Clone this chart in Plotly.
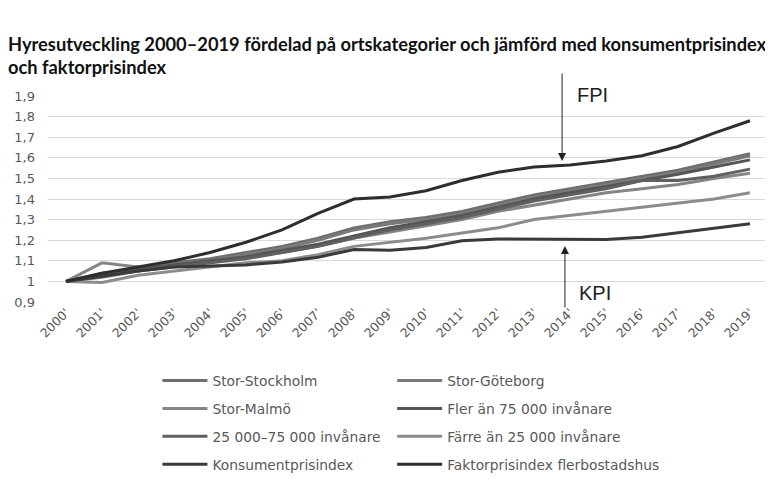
import plotly.graph_objects as go

years = ["2000'", "2001'", "2002'", "2003'", "2004'", "2005'", "2006'", "2007'", "2008'", "2009'",
         "2010'", "2011'", "2012'", "2013'", "2014'", "2015'", "2016'", "2017'", "2018'", "2019'"]

stor_stockholm = [1.00, 1.03, 1.06, 1.09, 1.11, 1.14, 1.17, 1.21, 1.26, 1.29, 1.31, 1.34, 1.38, 1.42, 1.45, 1.48, 1.51, 1.54, 1.58, 1.62]
stor_goteborg = [1.00, 1.02, 1.05, 1.08, 1.10, 1.13, 1.16, 1.20, 1.25, 1.28, 1.30, 1.33, 1.37, 1.41, 1.44, 1.47, 1.50, 1.53, 1.57, 1.61]
stor_malmo = [1.00, 1.09, 1.07, 1.08, 1.10, 1.12, 1.14, 1.17, 1.21, 1.24, 1.27, 1.30, 1.34, 1.37, 1.40, 1.43, 1.45, 1.47, 1.50, 1.525]
fler_75000 = [1.00, 1.04, 1.06, 1.08, 1.10, 1.12, 1.15, 1.18, 1.22, 1.26, 1.29, 1.32, 1.36, 1.40, 1.43, 1.46, 1.49, 1.52, 1.555, 1.59]
mellan_25_75 = [1.00, 1.03, 1.05, 1.07, 1.09, 1.11, 1.14, 1.17, 1.21, 1.25, 1.28, 1.31, 1.35, 1.39, 1.42, 1.45, 1.49, 1.49, 1.51, 1.545]
farre_25000 = [1.00, 0.995, 1.03, 1.05, 1.07, 1.09, 1.10, 1.13, 1.17, 1.19, 1.21, 1.235, 1.26, 1.30, 1.32, 1.34, 1.36, 1.38, 1.40, 1.43]
kpi = [1.00, 1.026, 1.05, 1.07, 1.074, 1.08, 1.094, 1.117, 1.155, 1.151, 1.165, 1.197, 1.206, 1.206, 1.204, 1.203, 1.214, 1.236, 1.258, 1.28]
fpi = [1.00, 1.04, 1.07, 1.10, 1.14, 1.19, 1.25, 1.33, 1.40, 1.41, 1.44, 1.49, 1.53, 1.555, 1.565, 1.585, 1.61, 1.655, 1.72, 1.78]

y_ticks = [0.9, 1.0, 1.1, 1.2, 1.3, 1.4, 1.5, 1.6, 1.7, 1.8, 1.9]
y_tick_labels = ["0,9", "1", "1,1", "1,2", "1,3", "1,4", "1,5", "1,6", "1,7", "1,8", "1,9"]

series = [
    ("Stor-Stockholm", stor_stockholm, "#6e6e6e", "legend"),
    ("Stor-Göteborg", stor_goteborg, "#7a7a7a", "legend2"),
    ("Stor-Malmö", stor_malmo, "#858585", "legend"),
    ("Fler än 75 000 invånare", fler_75000, "#555555", "legend2"),
    ("25 000–75 000 invånare", mellan_25_75, "#606060", "legend"),
    ("Färre än 25 000 invånare", farre_25000, "#8c8c8c", "legend2"),
    ("Konsumentprisindex", kpi, "#3a3a3a", "legend"),
    ("Faktorprisindex flerbostadshus", fpi, "#2e2e2e", "legend2"),
]

fig = go.Figure()
for i, (name, vals, color, leg) in enumerate(series):
    fig.add_trace(go.Scatter(x=years, y=vals, name=name, mode="lines", legendgroup=f"g{i}",
                             line=dict(color=color, width=3), legend=leg))

FONT = "DejaVu Sans"
TXT = "#595959"
leg_common = dict(orientation="v", itemwidth=45, tracegroupgap=7,
                  font=dict(family=FONT, size=13.8, color=TXT), xanchor="left",
                  yanchor="middle", y=-0.585, bgcolor="rgba(0,0,0,0)", traceorder="grouped")

# page body adds an 8px offset, so the figure is sized 765x483
fig.update_layout(
    width=765, height=483,
    margin=dict(l=40, r=5, t=88, b=189, autoexpand=False),
    paper_bgcolor="white", plot_bgcolor="white",
    title=dict(text="Hyresutveckling 2000–2019 fördelad på ortskategorier och jämförd med konsumentprisindex<br>och faktorprisindex",
               font=dict(family="Lato", size=18.3, color="#111111", weight="bold"),
               x=0.0, xanchor="left", y=0.912, yanchor="middle"),
    legend=dict(**leg_common, x=0.152),
    legend2=dict(**leg_common, x=0.478),
    xaxis=dict(type="category", range=[-0.5, 19.5], tickangle=-45, showgrid=False,
               showline=False, zeroline=False, ticks="", automargin=False,
               tickfont=dict(family=FONT, size=12.5, color=TXT)),
    yaxis=dict(range=[0.9, 1.9], tickvals=y_ticks, ticktext=y_tick_labels,
               showgrid=True, gridcolor="#d9d9d9", gridwidth=1, zeroline=False,
               showline=False, ticks="", ticklabelstandoff=12, automargin=False,
               tickfont=dict(family=FONT, size=13, color=TXT)),
    showlegend=True,
)

# arrows and labels
fig.add_annotation(x=13.78, y=1.584, xref="x", yref="y", ax=0, ay=-89, axref="pixel", ayref="pixel",
                   showarrow=True, arrowhead=2, arrowsize=1.6, arrowwidth=1, arrowcolor="#222222", text="")
fig.add_annotation(x=13.86, y=1.172, xref="x", yref="y", ax=0, ay=63, axref="pixel", ayref="pixel",
                   showarrow=True, arrowhead=2, arrowsize=1.6, arrowwidth=1, arrowcolor="#222222", text="")
fig.add_annotation(x=0.756, y=1.005, xref="paper", yref="paper", text="FPI", showarrow=False,
                   font=dict(family="Liberation Sans", size=20, color="#222222"),
                   xanchor="center", yanchor="middle")
fig.add_annotation(x=0.76, y=0.044, xref="paper", yref="paper", text="KPI", showarrow=False,
                   font=dict(family="Liberation Sans", size=20, color="#222222"),
                   xanchor="center", yanchor="middle")

fig.write_html("out.html")
